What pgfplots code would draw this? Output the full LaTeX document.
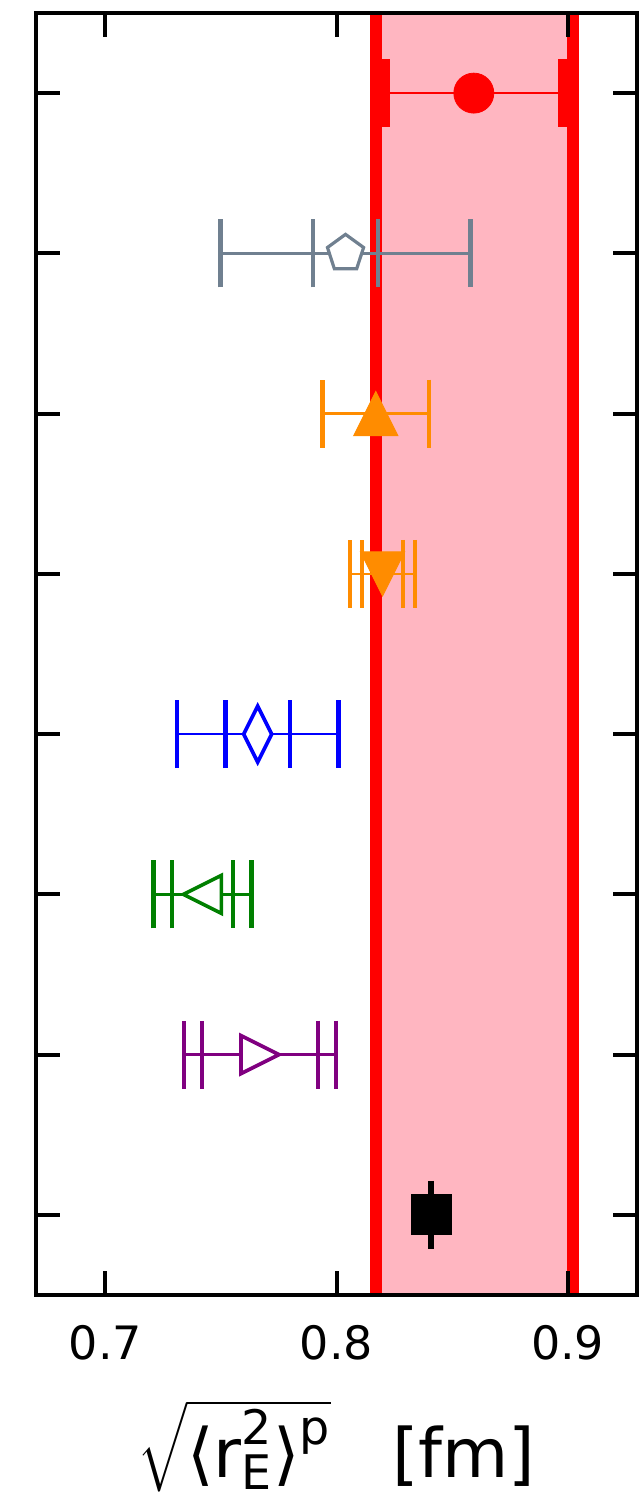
\documentclass[border=0pt]{standalone}
\usepackage{amsmath}
\usepackage{fontspec}
\setmainfont{DejaVu Sans}
\usepackage{pgfplots}
\pgfplotsset{compat=1.18}
\usetikzlibrary{plotmarks}

\definecolor{bandpink}{RGB}{255,182,193}
\definecolor{slate}{RGB}{112,128,144}
\definecolor{dorange}{RGB}{255,140,0}
\definecolor{dgreen}{RGB}{0,128,0}
\definecolor{dpurple}{RGB}{128,0,128}

% triangle whose bounding box is centred on the point
\pgfdeclareplotmark{tri}{%
  \pgfpathmoveto{\pgfqpoint{0pt}{\pgfplotmarksize}}%
  \pgfpathlineto{\pgfqpoint{-\pgfplotmarksize}{-\pgfplotmarksize}}%
  \pgfpathlineto{\pgfqpoint{\pgfplotmarksize}{-\pgfplotmarksize}}%
  \pgfpathclose\pgfusepathqfillstroke}
% narrow diamond
\pgfdeclareplotmark{thindiamond}{%
  \pgfpathmoveto{\pgfqpoint{0pt}{\pgfplotmarksize}}%
  \pgfpathlineto{\pgfqpoint{.5\pgfplotmarksize}{0pt}}%
  \pgfpathlineto{\pgfqpoint{0pt}{-\pgfplotmarksize}}%
  \pgfpathlineto{\pgfqpoint{-.5\pgfplotmarksize}{0pt}}%
  \pgfpathclose\pgfusepathqfillstroke}

\pgfplotsset{
  errbar/.style={mark=none,
    error bars/.cd, x dir=both, x explicit,
    error bar style={line width=1.3pt, solid},
    error mark options={rotate=90, line width=2.2pt, mark size=17pt, solid}},
}

\begin{document}
\begin{tikzpicture}
\begin{axis}[
  name=ax,
  scale only axis,
  width=300.5pt, height=641pt,
  xmin=0.67, xmax=0.93,
  ymin=0.5, ymax=8.5,
  xtick={0.7,0.8,0.9},
  xticklabels={0.7,0.8,0.9},
  ytick={1,2,3,4,5,6,7,8},
  yticklabels={},
  tick align=inside,
  xtick pos=both, ytick pos=both,
  major tick length=12pt,
  axis line style={line width=2pt},
  every tick/.style={black, line width=2pt},
  axis on top,
  xticklabel style={font=\fontsize{23}{23}\selectfont, anchor=base, yshift=-32pt},
  xlabel={$\sqrt{\text{⟨r}^{\text{2}}_{\text{E}}\text{⟩}^{\text{p}}}$\hspace{0.9em}[fm]},
  xlabel style={font=\fontsize{34}{34}\selectfont, at={(axis description cs:0.5,0)}, anchor=base, yshift=-91pt},
]
% shaded band and its edges
\addplot[fill=bandpink, draw=none] coordinates {(0.8171,0.5) (0.9023,0.5) (0.9023,8.5) (0.8171,8.5)} -- cycle;
\addplot[red, line width=6pt] coordinates {(0.8171,0.5) (0.8171,8.5)};
\addplot[red, line width=6pt] coordinates {(0.9023,0.5) (0.9023,8.5)};

% error bars (total and statistical)
\addplot[red, mark=none, error bars/.cd, x dir=both, x explicit,
  error bar style={line width=1.3pt, solid},
  error mark options={rotate=90, line width=6pt, mark size=17pt, solid}]
  coordinates {(0.8594,8) +- (0.039,0)};
\addplot[slate, errbar] coordinates {(0.8039,7) +- (0.054,0)};
\addplot[slate, errbar] coordinates {(0.8039,7) +- (0.014,0)};
\addplot[dorange, errbar] coordinates {(0.8170,6) +- (0.023,0)};
\addplot[dorange, errbar] coordinates {(0.8199,5) +- (0.0141,0)};
\addplot[dorange, errbar] coordinates {(0.8199,5) +- (0.0088,0)};
\addplot[blue, errbar] coordinates {(0.7659,4) +- (0.0350,0)};
\addplot[blue, errbar] coordinates {(0.7659,4) +- (0.0139,0)};
\addplot[dgreen, errbar] coordinates {(0.7420,3) +- (0.0212,0)};
\addplot[dgreen, errbar] coordinates {(0.7420,3) +- (0.0132,0)};
\addplot[dpurple, errbar] coordinates {(0.7669,2) +- (0.0330,0)};
\addplot[dpurple, errbar] coordinates {(0.7669,2) +- (0.0250,0)};
\addplot[black, errbar] coordinates {(0.8409,1) +- (0.0004,0)};

% central values
\addplot[only marks, mark=*, mark size=10pt, draw=red, fill=red] coordinates {(0.8594,8)};
\addplot[only marks, mark=pentagon*, mark size=9.5pt, draw=slate, fill=white, line width=1.6pt] coordinates {(0.8039,7)};
\addplot[only marks, mark=tri, mark size=11pt, draw=dorange, fill=dorange, line width=0.5pt] coordinates {(0.8170,6)};
\addplot[only marks, mark=tri, mark size=11pt, draw=dorange, fill=dorange, line width=0.5pt, mark options={rotate=180}] coordinates {(0.8199,5)};
\addplot[only marks, mark=thindiamond, mark size=14pt, draw=blue, fill=white, line width=1.8pt] coordinates {(0.7659,4)};
\addplot[only marks, mark=tri, mark size=9.5pt, draw=dgreen, fill=white, line width=1.8pt, mark options={rotate=90}] coordinates {(0.7420,3)};
\addplot[only marks, mark=tri, mark size=9.5pt, draw=dpurple, fill=white, line width=1.8pt, mark options={rotate=-90}] coordinates {(0.7669,2)};
\addplot[only marks, mark=square*, mark size=10pt, draw=black, fill=black] coordinates {(0.8409,1)};
\end{axis}
\pgfresetboundingbox
\useasboundingbox ([xshift=-18pt,yshift=6.5pt]ax.north west) rectangle ([xshift=2.5pt,yshift=-105pt]ax.south east);
\end{tikzpicture}
\end{document}
